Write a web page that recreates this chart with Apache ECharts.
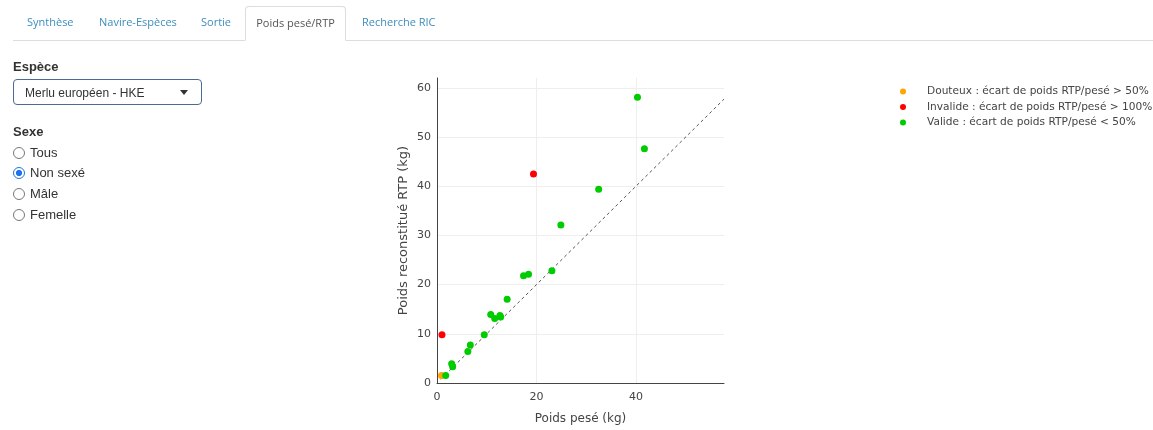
<!DOCTYPE html>
<html><head><meta charset="utf-8">
<script src="https://cdn.jsdelivr.net/npm/echarts@6/dist/echarts.min.js"></script>
<style>
html,body{margin:0;padding:0;width:1153px;height:430px;background:#fff;overflow:hidden;font-family:"Liberation Sans",Arial,sans-serif;}
#tabs{position:absolute;left:13px;top:0;width:1140px;height:40px;border-bottom:1px solid #ddd;}
.tab{position:absolute;top:14px;font-family:"Open Sans",sans-serif;font-size:11px;color:#3c8dbc;}
.tab.active{top:6px;height:35px;width:101px;text-align:center;border:1px solid #ddd;border-bottom:1px solid #fff;border-radius:4px 4px 0 0;background:#fff;color:#555;box-sizing:border-box;padding:8px 0 0 0;}
.lbl{position:absolute;left:13px;font-weight:bold;font-size:13px;color:#333;}
#sel{position:absolute;left:13px;top:79px;width:189px;height:26px;border:1px solid #4a6a94;border-radius:4px;box-sizing:border-box;font-size:12px;color:#333;padding:6px 0 0 11px;}
#caret{position:absolute;left:166px;top:10px;width:0;height:0;border-left:4.5px solid transparent;border-right:4.5px solid transparent;border-top:5px solid #333;}
.radio{position:absolute;left:13px;font-size:13px;color:#333;}
.radio span.c{display:inline-block;width:12px;height:12px;border:1.3px solid #777;border-radius:50%;vertical-align:-2px;margin-right:5px;box-sizing:border-box;}
.radio span.c.on{border:1.3px solid #1a73e8;background:radial-gradient(circle,#1a73e8 0 2.8px,#fff 3.3px);}
#chart{position:absolute;left:0;top:0;width:1153px;height:430px;}
</style></head>
<body>
<div id="chart"></div>
<div id="tabs">
  <div class="tab" style="left:14px">Synthèse</div>
  <div class="tab" style="left:86px">Navire-Espèces</div>
  <div class="tab" style="left:188px">Sortie</div>
  <div class="tab active" style="left:232px">Poids pesé/RTP</div>
  <div class="tab" style="left:349px">Recherche RIC</div>
</div>
<div class="lbl" style="top:59px">Espèce</div>
<div id="sel">Merlu européen - HKE<div id="caret"></div></div>
<div class="lbl" style="top:124px">Sexe</div>
<div class="radio" style="top:145px"><span class="c"></span>Tous</div>
<div class="radio" style="top:165px"><span class="c on"></span>Non sexé</div>
<div class="radio" style="top:186px"><span class="c"></span>Mâle</div>
<div class="radio" style="top:207px"><span class="c"></span>Femelle</div>
<script>
const seriesNames = [
  "Douteux : écart de poids RTP/pesé > 50%",
  "Invalide : écart de poids RTP/pesé > 100%",
  "Valide : écart de poids RTP/pesé < 50%"
];
const seriesColors = ["#ffa500", "#ff0000", "#00cc00"];
// [poids pesé, poids RTP]
const douteux = [[0.9, 1.5]];
const invalide = [[1.0, 9.8], [19.4, 42.5]];
const valide = [
  [1.75, 1.55], [2.95, 3.9], [3.15, 3.3], [6.2, 6.4], [6.7, 7.7],
  [9.5, 9.8], [10.8, 13.9], [11.6, 13.1], [12.65, 13.7], [12.8, 13.4],
  [14.1, 17.0], [17.4, 21.8], [18.4, 22.1], [23.1, 22.8], [24.9, 32.1],
  [32.5, 39.4], [40.3, 58.1], [41.7, 47.6]
];
const refLine = [0.75, 57.7]; // y = x
const xTicks = [0, 20, 40];
const yTicks = [0, 10, 20, 30, 40, 50, 60];

const chart = echarts.init(document.getElementById('chart'), null, {renderer: 'canvas'});
const axisFont = {fontFamily: 'DejaVu Sans', fontSize: 11, color: '#444'};
const allData = [douteux, invalide, valide];
const series = [{
  name: 'grid', type: 'scatter', data: [], silent: true, z: 0,
  markLine: {
    silent: true, symbol: 'none', label: {show: false}, animation: false, z: 0,
    lineStyle: {color: '#eeeeee', width: 1, type: 'solid'},
    data: xTicks.filter(v => v > 0).map(v => ({xAxis: v})).concat(yTicks.filter(v => v > 0).map(v => ({yAxis: v})))
  }
}];
allData.forEach((d, i) => series.push({
  name: seriesNames[i], type: 'scatter', data: d, symbolSize: 7,
  itemStyle: {color: seriesColors[i], opacity: 1}, z: 3
}));
series.push({
  name: 'ref', type: 'line', data: refLine.map(v => [v, v]), symbol: 'none',
  lineStyle: {color: '#555', width: 1, type: [3, 3]}, silent: true, z: 2
});
chart.setOption({
  animation: false,
  textStyle: {fontFamily: 'DejaVu Sans'},
  grid: {left: 437, top: 78, width: 287, height: 307},
  legend: {
    data: seriesNames, orient: 'vertical', left: 895, top: 81,
    icon: 'circle', itemWidth: 6, itemHeight: 6, itemGap: 4.5,
    textStyle: {fontFamily: 'DejaVu Sans', fontSize: 10.6, color: '#444', padding: [0, 0, 0, 16]}
  },
  xAxis: {
    type: 'value', min: 0, max: 57.7, interval: 20,
    name: 'Poids pesé (kg)', nameLocation: 'middle', nameGap: 30,
    nameTextStyle: {fontFamily: 'DejaVu Sans', fontSize: 12, color: '#444'},
    axisLine: {show: true, lineStyle: {color: '#444', width: 1}},
    axisTick: {show: false},
    axisLabel: Object.assign({showMaxLabel: false, margin: 9, formatter: v => xTicks.includes(v) ? String(v) : ''}, axisFont),
    splitLine: {show: false}
  },
  yAxis: {
    type: 'value', min: 0, max: 62, interval: 10,
    name: 'Poids reconstitué RTP (kg)', nameLocation: 'middle', nameGap: 27,
    nameTextStyle: {fontFamily: 'DejaVu Sans', fontSize: 13, color: '#444'},
    axisLine: {show: true, lineStyle: {color: '#444', width: 1}},
    axisTick: {show: false},
    axisLabel: Object.assign({showMaxLabel: false, margin: 6, formatter: v => yTicks.includes(v) ? String(v) : ''}, axisFont),
    splitLine: {show: false}
  },
  series: series
});
</script>
</body></html>
